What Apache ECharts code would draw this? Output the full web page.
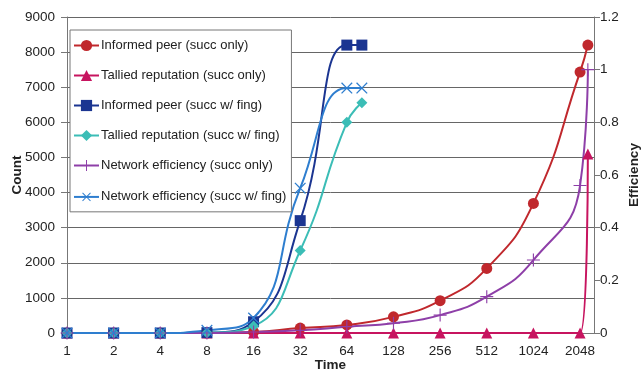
<!DOCTYPE html>
<html>
<head>
<meta charset="utf-8">
<script src="https://cdn.jsdelivr.net/npm/echarts@6/dist/echarts.min.js"></script>
<style>
  html, body { margin: 0; padding: 0; background: #fff; }
  #main { width: 642px; height: 372px; }
</style>
</head>
<body>
<div id="main"></div>
<script>
// time points (x, log2 axis)
const timesLong = [1, 2, 4, 8, 16, 32, 64, 128, 256, 512, 1024, 2048, 2300];
const timesFing = [1, 2, 4, 8, 16, 32, 64, 80];

// count axis series
const informedSucc = [0, 0, 0, 0, 30, 140, 230, 460, 920, 1840, 3690, 7430, 8200];
const talliedSucc = [0, 0, 0, 0, 0, 0, 0, 0, 0, 0, 0, 0, 5100];
const informedFing = [0, 0, 0, 10, 320, 3200, 8200, 8200];
const talliedFing = [0, 0, 0, 10, 200, 2350, 6000, 6560];

// efficiency axis series
const netEffSucc = [0, 0, 0, 0, 0.004, 0.01, 0.024, 0.037, 0.068, 0.138, 0.277, 0.56, 1.0];
const netEffFing = [0, 0, 0, 0.01, 0.057, 0.55, 0.93, 0.93];

const seriesNames = [
  'Informed peer (succ only)',
  'Tallied reputation (succ only)',
  'Informed peer (succ w/ fing)',
  'Tallied reputation (succ w/ fing)',
  'Network efficiency (succ only)',
  'Network efficiency (succ w/ fing)'
];

function pairs(xs, ys) {
  return xs.map((x, i) => [x, ys[i]]);
}

const plusPath = 'path://M10.5,0h2v10.5h10.5v2h-10.5v10.5h-2v-10.5h-10.5v-2h10.5z';
const FONT = 'Liberation Sans, Arial, sans-serif';

function mkLine(name, data, color, symbol, size, yIdx, extra) {
  return Object.assign({
    name: name,
    type: 'line',
    yAxisIndex: yIdx,
    smooth: 0.5,
    data: data,
    symbol: symbol,
    symbolSize: size,
    showAllSymbol: true,
    lineStyle: { color: color, width: 2 },
    itemStyle: { color: color },
    emphasis: { disabled: true },
    animation: false
  }, extra || {});
}

const chart = echarts.init(document.getElementById('main'), null, { renderer: 'canvas' });

const option = {
  backgroundColor: '#fff',
  animation: false,
  textStyle: { fontFamily: FONT },
  grid: { left: 67, right: 48, top: 17, bottom: 39, outerBoundsMode: 'none', containLabel: false },
  legend: {
    orient: 'vertical',
    left: 70,
    top: 30,
    padding: [9, 5, 7, 3],
    itemWidth: 25,
    itemHeight: 14,
    itemGap: 17,
    backgroundColor: '#fff',
    borderColor: '#777',
    borderWidth: 1,
    textStyle: { fontSize: 13, color: '#222', fontFamily: FONT, padding: [0, 0, 0, -3] },
    data: seriesNames
  },
  xAxis: {
    type: 'log',
    logBase: 2,
    min: 1,
    max: 2520,
    interval: 1,
    name: 'Time',
    nameLocation: 'middle',
    nameGap: 25,
    nameMoveOverlap: false,
    nameTextStyle: { fontSize: 13.5, fontWeight: 'bold', color: '#222', fontFamily: FONT },
    axisLine: { lineStyle: { color: '#777' } },
    axisTick: { show: false },
    axisLabel: { fontSize: 13.5, color: '#222', margin: 11, showMaxLabel: false, formatter: v => String(Math.round(v)), fontFamily: FONT },
    splitLine: { show: false }
  },
  yAxis: [
    {
      type: 'value',
      min: 0,
      max: 9000,
      interval: 1000,
      name: 'Count',
      nameLocation: 'middle',
      nameGap: 43,
      nameRotate: 90,
      nameMoveOverlap: false,
      nameTextStyle: { fontSize: 13.5, fontWeight: 'bold', color: '#222', fontFamily: FONT },
      axisLine: { show: true, lineStyle: { color: '#777' } },
      axisTick: { show: true, length: 6, lineStyle: { color: '#777' } },
      axisLabel: { fontSize: 13.5, color: '#222', margin: 12, formatter: v => String(v), fontFamily: FONT },
      splitLine: { lineStyle: { color: '#666', width: 1 } }
    },
    {
      type: 'value',
      min: 0,
      max: 1.2,
      interval: 0.2,
      position: 'right',
      name: 'Efficiency',
      nameLocation: 'middle',
      nameGap: 33,
      nameRotate: 90,
      nameMoveOverlap: false,
      nameTextStyle: { fontSize: 13.5, fontWeight: 'bold', color: '#222', fontFamily: FONT },
      axisLine: { show: true, lineStyle: { color: '#777' } },
      axisTick: { show: true, length: 6, lineStyle: { color: '#777' } },
      axisLabel: { fontSize: 13.5, color: '#222', margin: 6, formatter: v => String(+v.toFixed(1)), fontFamily: FONT },
      splitLine: { show: false }
    }
  ],
  series: [
    mkLine(seriesNames[0], pairs(timesLong, informedSucc), '#C0282D', 'circle', 11, 0),
    mkLine(seriesNames[1], pairs(timesLong, talliedSucc), '#C7145F', 'triangle', 11, 0),
    mkLine(seriesNames[2], pairs(timesFing, informedFing), '#1B3591', 'rect', 11, 0),
    mkLine(seriesNames[3], pairs(timesFing, talliedFing), '#3BBDB6', 'diamond', 11, 0),
    mkLine(seriesNames[4], pairs(timesLong, netEffSucc), '#8E3FA8', plusPath, 13, 1),
    mkLine(seriesNames[5], pairs(timesFing, netEffFing), '#2E7ECF', plusPath, 15, 1, { symbolRotate: 45 })
  ]
};

chart.setOption(option);
</script>
</body>
</html>
